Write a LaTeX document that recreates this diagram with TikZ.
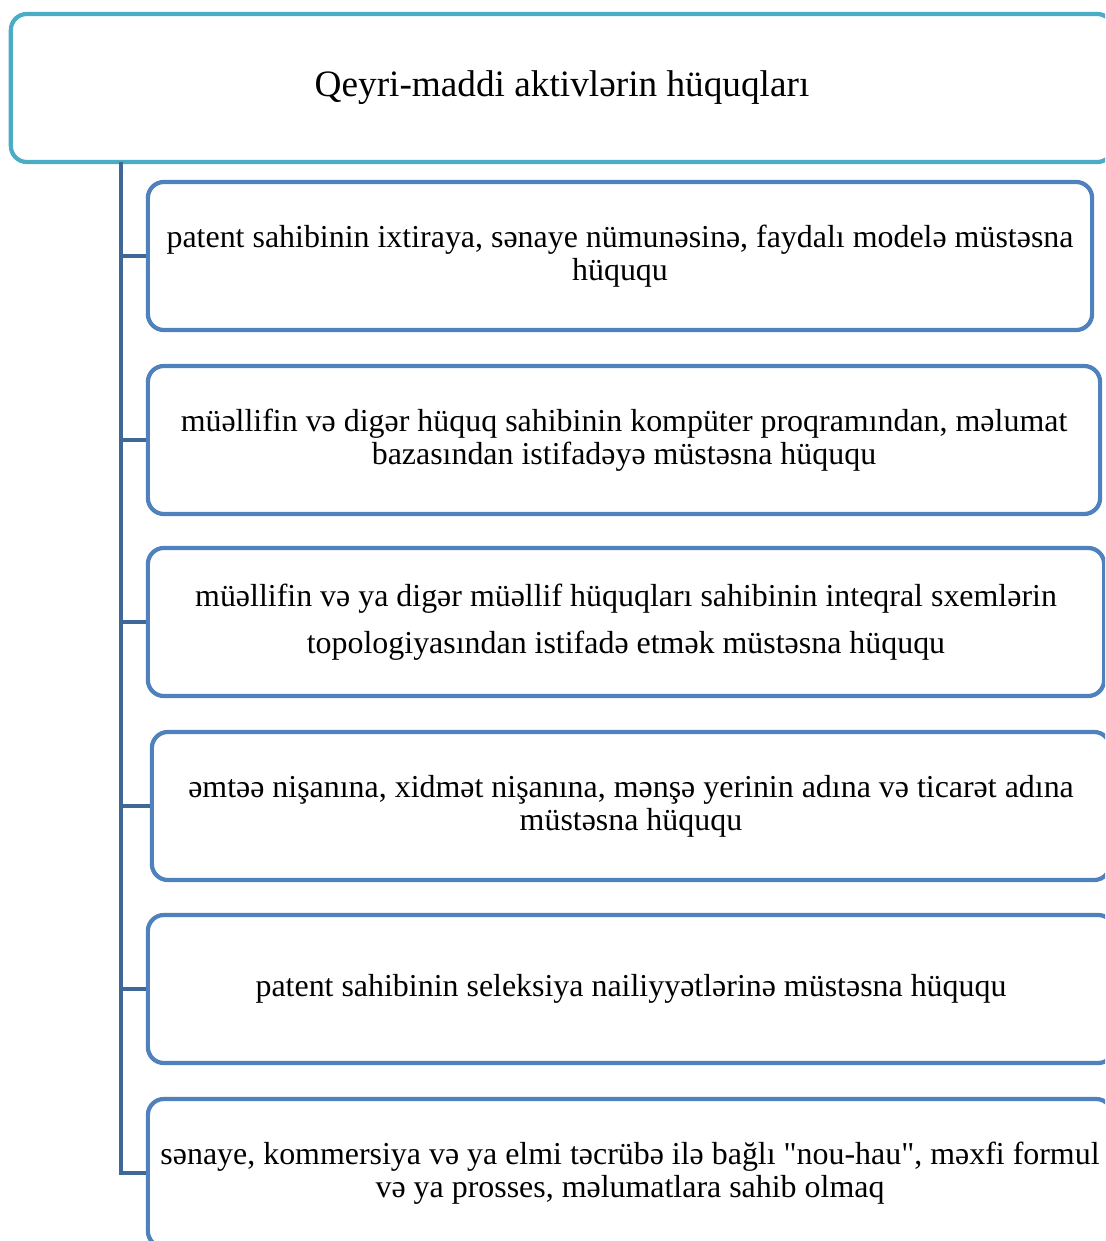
\documentclass[tikz,border=0pt]{standalone}
\usepackage{fontspec}
\setmainfont{Liberation Serif}[Ligatures=TeXOff]
\usepackage{xcolor}
\usepackage{tikz}
\usetikzlibrary{positioning,calc}
\definecolor{titleteal}{RGB}{75,172,198}
\definecolor{boxblue}{RGB}{79,129,189}
\definecolor{trunkblue}{RGB}{63,103,151}

\begin{document}
\begin{tikzpicture}[
    x=0.025cm, y=-0.025cm,
    every node/.style={align=center, inner sep=0pt},
    titlebox/.style={draw=titleteal, line width=3pt, rounded corners=0.4cm, fill=white,
        minimum height=3.7cm, font=\fontsize{26.5}{30}\selectfont},
    rightbox/.style={draw=boxblue, line width=3pt, rounded corners=0.4cm, fill=white,
        minimum height=3.7cm, font=\fontsize{22.7}{23.5}\selectfont},
    branch/.style={draw=trunkblue, line width=3pt}
]
\useasboundingbox (0,0) rectangle (1105,1241);
\clip (0,0) rectangle (1105,1241);

% title
\node[titlebox, minimum width=27.55cm] (title) at (562,88) {Qeyri-maddi aktivlərin hüquqları};

% rights
\node[rightbox, minimum width=23.6cm] (b1) at (620,256)
    {patent sahibinin ixtiraya, sənaye nümunəsinə, faydalı modelə müstəsna\\hüququ};
\node[rightbox, minimum width=23.8cm] (b2) at (624,440)
    {müəllifin və digər hüquq sahibinin kompüter proqramından, məlumat\\bazasından istifadəyə müstəsna hüququ};
\node[rightbox, minimum width=23.9cm] (b3) at (626,622)
    {müəllifin və ya digər müəllif hüquqları sahibinin inteqral sxemlərin\\[0.35cm]topologiyasından istifadə etmək müstəsna hüququ};
\node[rightbox, minimum width=23.95cm] (b4) at (631,806)
    {əmtəə nişanına, xidmət nişanına, mənşə yerinin adına və ticarət adına\\müstəsna hüququ};
\node[rightbox, minimum width=24.15cm] (b5) at (631,989)
    {patent sahibinin seleksiya nailiyyətlərinə müstəsna hüququ};
\node[rightbox, minimum width=24.1cm] (b6) at (630,1173)
    {sənaye, kommersiya və ya elmi təcrübə ilə bağlı "nou-hau", məxfi formul\\və ya prosses, məlumatlara sahib olmaq};

% trunk and branches
\coordinate (trunk) at (121,162);
\draw[branch] (trunk) |- (b6.west);
\foreach \b in {b1,b2,b3,b4,b5}
    \draw[branch] (trunk |- \b.west) -- (\b.west);
\end{tikzpicture}
\end{document}
